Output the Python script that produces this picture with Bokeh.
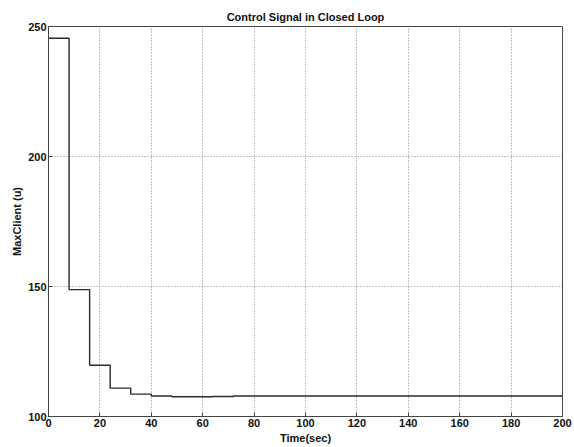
from bokeh.plotting import figure
from bokeh.embed import file_html
from bokeh.resources import INLINE
from bokeh.models import FixedTicker, Range1d

# sample times (sec) and control signal values
time_sec = [0, 8, 16, 24, 32, 40, 48, 56, 64, 72, 80, 200]
max_client = [245.5, 148.8, 119.7, 110.9, 108.6, 107.9, 107.6, 107.6, 107.7, 107.9, 107.9, 107.9]

x_ticks = [0, 20, 40, 60, 80, 100, 120, 140, 160, 180, 200]
y_ticks = [100, 150, 200, 250]

FONT = "Liberation Sans"

p = figure(width=574, height=447, output_backend="svg", toolbar_location=None,
           x_range=Range1d(0, 200), y_range=Range1d(100, 250),
           title="Control Signal in Closed Loop",
           min_border_left=48, min_border_right=12, min_border_top=26, min_border_bottom=31)

p.step(time_sec, max_client, mode="after", line_color="#2a2a2a", line_width=1.4)

p.title.align = "center"
p.title.text_font = FONT
p.title.text_font_size = "11px"
p.title.text_font_style = "bold"
p.title.text_color = "#111111"
p.title.offset = 0
p.title.standoff = 7

p.xaxis.ticker = FixedTicker(ticks=x_ticks)
p.yaxis.ticker = FixedTicker(ticks=y_ticks)
p.xaxis.axis_label = "Time(sec)"
p.yaxis.axis_label = "MaxClient (u)"

for ax in (p.xaxis, p.yaxis):
    ax.major_label_text_font = FONT
    ax.major_label_text_font_size = "11px"
    ax.major_label_text_font_style = "bold"
    ax.major_label_text_color = "#111111"
    ax.axis_label_text_font = FONT
    ax.axis_label_text_font_size = "11px"
    ax.axis_label_text_font_style = "bold"
    ax.axis_label_text_color = "#111111"
    ax.major_tick_in = 4
    ax.major_tick_out = 0
    ax.minor_tick_in = 0
    ax.minor_tick_out = 0
    ax.axis_line_color = "#444444"
    ax.major_tick_line_color = "#444444"
    ax.major_label_standoff = 2
    ax.axis_label_standoff = 2

p.grid.grid_line_color = "#888888"
p.grid.grid_line_dash = "1 2"
p.grid.grid_line_width = 1
p.outline_line_color = "#444444"
p.outline_line_width = 1
p.background_fill_color = "white"
p.border_fill_color = "white"

open("out.html", "w").write(file_html(p, INLINE))
